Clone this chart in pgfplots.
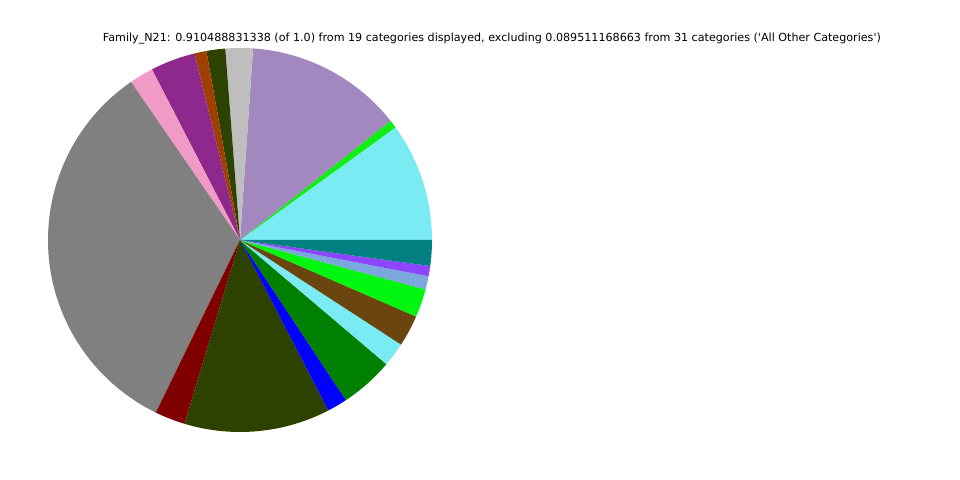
\documentclass[border=0pt]{standalone}
\usepackage{pgfplots}
\usepackage{pgfplotstable}
\pgfplotsset{compat=1.18}
\usepackage{fontspec}
\setmainfont{DejaVu Sans}
\newfontfamily\titlefont{DejaVu Sans}
\definecolor{s1}{HTML}{7AEBF2}
\definecolor{s2}{HTML}{11EE11}
\definecolor{s3}{HTML}{A288BE}
\definecolor{s4}{HTML}{BEBEBE}
\definecolor{s5}{HTML}{2D4200}
\definecolor{s6}{HTML}{A04000}
\definecolor{s7}{HTML}{8E288C}
\definecolor{s8}{HTML}{F29AC6}
\definecolor{s9}{HTML}{808080}
\definecolor{s10}{HTML}{800000}
\definecolor{s11}{HTML}{2D4200}
\definecolor{s12}{HTML}{0000FF}
\definecolor{s13}{HTML}{008000}
\definecolor{s14}{HTML}{7AEBF2}
\definecolor{s15}{HTML}{6B4510}
\definecolor{s16}{HTML}{00F50F}
\definecolor{s17}{HTML}{7BA8DC}
\definecolor{s18}{HTML}{8C46FF}
\definecolor{s19}{HTML}{008080}
\pgfplotstableread{
value col
35.9 s1
2.5 s2
47.7 s3
8.3 s4
5.7 s5
3.6 s6
13.6 s7
7.3 s8
119.4 s9
9.2 s10
44.2 s11
6.1 s12
16.2 s13
7.3 s14
9.5 s15
8.6 s16
4.0 s17
3.1 s18
7.8 s19
}\slices
\begin{document}
\begin{tikzpicture}
\begin{axis}[x=4cm, y=4cm, xmin=-1.25, xmax=3.75, ymin=-1.25, ymax=1.25,
  scale only axis, axis line style={draw=none}, xtick=\empty, ytick=\empty, clip=false]
\gdef\cum{0}
\pgfplotsinvokeforeach{0,...,18}{
  \pgfplotstablegetelem{#1}{value}\of\slices \pgfmathsetmacro\v{\pgfplotsretval}
  \pgfplotstablegetelem{#1}{col}\of\slices \edef\c{\pgfplotsretval}
  \pgfmathsetmacro\e{\cum+\v}
  \edef\temp{\noexpand\fill[\c] (axis cs:0,0) -- (axis cs:{cos(\cum)},{sin(\cum)}) arc[start angle=\cum, end angle=\e, radius=4cm] -- cycle;}
  \temp
  \xdef\cum{\e}
}
\node[font=\titlefont\fontsize{6.6}{8}\selectfont] at (axis cs:1.3125,1.047) {Family\_N21: 0.910488831338 (of 1.0) from 19 categories displayed, excluding 0.089511168663 from 31 categories ('All Other Categories')};
\end{axis}
\end{tikzpicture}
\end{document}
